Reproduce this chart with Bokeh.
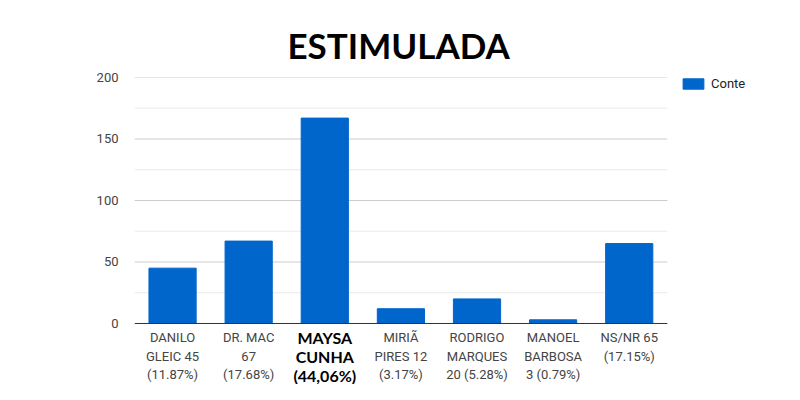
from bokeh.plotting import figure
from bokeh.models import Legend, LegendItem, Label, FixedTicker, Range1d
from bokeh.embed import file_html
from bokeh.resources import INLINE

# dados da pesquisa estimulada
candidatos = ["DANILO", "DR. MAC", "MAYSA", "MIRIA", "RODRIGO", "MANOEL", "NSNR"]
rotulos = [
    "DANILO\nGLEIC 45\n(11.87%)",
    "DR. MAC\n67\n(17.68%)",
    "MAYSA\nCUNHA\n(44,06%)",
    "MIRIÃ\nPIRES 12\n(3.17%)",
    "RODRIGO\nMARQUES\n20 (5.28%)",
    "MANOEL\nBARBOSA\n3 (0.79%)",
    "NS/NR 65\n(17.15%)",
]
destaque = "MAYSA"
votos = [45, 67, 167, 12, 20, 3, 65]
ticks_y = [0, 50, 100, 150, 200]
ticks_menores = [25, 75, 125, 175]

AZUL = "#0066cc"

n = len(candidatos)
posicoes = [i + 0.5 for i in range(n)]

# a area do grafico vai ate a borda (rotulos e legenda ficam dentro dela)
p = figure(x_range=Range1d(0, 8.54), y_range=Range1d(-49.6, 200),
           width=784, height=384,
           output_backend="svg", toolbar_location=None,
           min_border_left=134, min_border_right=0,
           min_border_top=77, min_border_bottom=0)

p.title.text = "ESTIMULADA"
p.title.align = "left"
p.title.offset = 153
p.title.text_font = "Lato"
p.title.text_font_size = "35px"
p.title.text_font_style = "bold"
p.title.text_color = "#000000"
p.title.standoff = 24

p.outline_line_color = None
p.background_fill_color = "white"
p.xaxis.visible = False
p.grid.visible = False

p.yaxis.ticker = FixedTicker(ticks=ticks_y)
p.yaxis.axis_line_color = None
p.yaxis.major_tick_line_color = None
p.yaxis.minor_tick_line_color = None
p.yaxis.major_label_text_font = "Roboto"
p.yaxis.major_label_text_font_size = "13px"
p.yaxis.major_label_text_color = "#444444"
p.yaxis.major_label_standoff = 10

# linhas de grade
p.segment(x0=0, x1=n, y0=ticks_menores, y1=ticks_menores,
          line_color="#ebebeb", line_width=1)
p.segment(x0=0, x1=n, y0=ticks_y[1:], y1=ticks_y[1:],
          line_color="#cccccc", line_width=1)

barras = p.vbar(x=posicoes, top=votos, width=0.62, color=AZUL)

# eixo x
p.segment(x0=[0], x1=[n], y0=[0], y1=[0], line_color="#333333", line_width=1)

for x, c, r in zip(posicoes, candidatos, rotulos):
    if c == destaque:
        lab = Label(x=x, y=0, y_offset=-5, text=r,
                    text_align="center", text_baseline="top",
                    text_font="Lato", text_font_style="bold",
                    text_font_size="16px", text_color="#000000",
                    text_line_height=1.0)
    else:
        lab = Label(x=x, y=0, y_offset=-7, text=r,
                    text_align="center", text_baseline="top",
                    text_font="Roboto", text_font_size="13px",
                    text_color="#444444", text_line_height=1.21)
    p.add_layout(lab)

legenda = Legend(items=[LegendItem(label="Conte", renderers=[barras])],
                 location=(546, 293), border_line_color=None,
                 background_fill_alpha=0,
                 glyph_width=26, glyph_height=13,
                 label_text_font="Roboto", label_text_font_size="13px",
                 label_text_color="#222222", padding=0, margin=0,
                 label_standoff=5)
p.add_layout(legenda)

open("out.html", "w").write(file_html(p, INLINE))
